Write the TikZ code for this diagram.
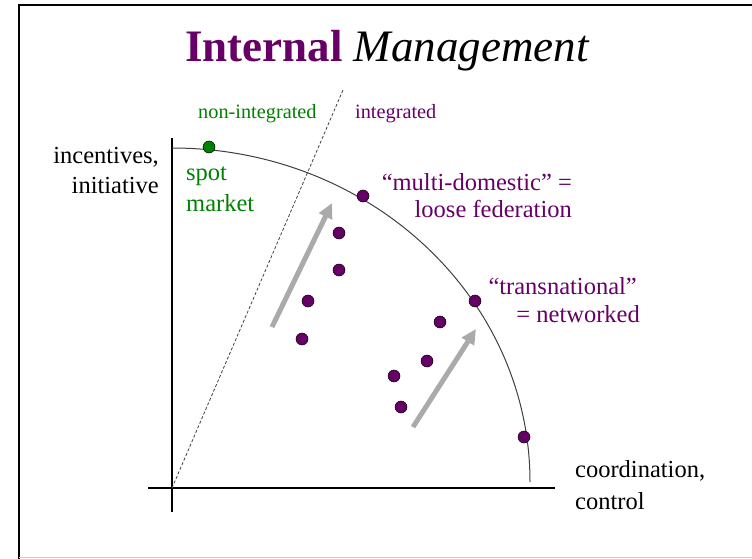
\documentclass[tikz,border=0pt]{standalone}
\usepackage{fontspec}
\setmainfont{Liberation Serif}
\usetikzlibrary{arrows.meta}
\definecolor{plum}{RGB}{102,0,102}
\definecolor{grn}{RGB}{0,128,0}
\definecolor{arrgray}{RGB}{170,170,170}
\tikzset{
  lbl/.style={inner sep=0pt, font=\fontsize{24.5}{28}\selectfont},
  small/.style={inner sep=0pt, font=\fontsize{20.3}{24}\selectfont},
  dot/.style={circle, minimum size=12pt, inner sep=0pt, fill=plum, draw=black, line width=0.5pt},
  gdot/.style={dot, fill=grn},
  axis/.style={line width=2.5pt, black},
  bigarrow/.style={line width=5pt, arrgray, -{Triangle[length=15pt,width=14pt]}},
}
\begin{document}
\begin{tikzpicture}[x=1pt,y=-1pt]
\useasboundingbox (0,0) rectangle (752,559);
% frame
\draw[line width=2.5pt, black] (19,559) -- (19,5) -- (752,5);
\draw[line width=1.5pt, black!20] (19,557.5) -- (752,557.5);
% title
\node[inner sep=0pt, anchor=base west, font=\fontsize{45}{50}\selectfont] (title) at (185,62)
  {\textcolor{plum}{\bfseries Internal} \itshape Management};
% axes
\coordinate (o) at (172,488);
\coordinate (ytop) at (172,138);
\coordinate (ybot) at (172,512);
\coordinate (xl) at (148,488);
\coordinate (xr) at (555,488);
\draw[axis] (ybot) -- (ytop);
\draw[axis] (xl) -- (xr);
% dashed divider
\coordinate (dtop) at (343,90);
\draw[line width=0.8pt, black!75, dash pattern=on 3pt off 2pt] (o) -- (dtop);
% frontier curve
\coordinate (cstart) at (172,148);
\draw[line width=1pt, black!75] (cstart) arc[start angle=-90, end angle=0, x radius=358, y radius=334];
% arrows
\coordinate (a1s) at (272,327);
\coordinate (a1e) at (332,203);
\coordinate (a2s) at (413,427);
\coordinate (a2e) at (476,329);
\draw[bigarrow] (a1s) -- (a1e);
\draw[bigarrow] (a2s) -- (a2e);
% dots
\node[gdot] (g1) at (209,147) {};
\node[dot] (d1) at (363,196) {};
\node[dot] (d2) at (339,233) {};
\node[dot] (d3) at (339,270) {};
\node[dot] (d4) at (308,301) {};
\node[dot] (d5) at (302,339) {};
\node[dot] (d6) at (475,301) {};
\node[dot] (d7) at (440,322) {};
\node[dot] (d8) at (427,361) {};
\node[dot] (d9) at (394,376) {};
\node[dot] (d10) at (401,407) {};
\node[dot] (d11) at (524,437) {};
% labels
\node[small, anchor=base west, text=grn] (nonint) at (198,119) {non-integrated};
\node[small, anchor=base west, text=plum] (integ) at (355,119) {integrated};
\node[lbl, anchor=base east] (inc1) at (159,164) {incentives,};
\node[lbl, anchor=base east] (inc2) at (159,193) {initiative};
\node[lbl, anchor=base west, text=grn] (spot1) at (186,180) {spot};
\node[lbl, anchor=base west, text=grn] (spot2) at (186,211) {market};
\node[lbl, anchor=base east, text=plum] (md1) at (572,190) {“multi-domestic” =};
\node[lbl, anchor=base east, text=plum] (md2) at (572,217) {loose federation};
\node[lbl, anchor=base east, text=plum] (tn1) at (637,294) {“transnational”};
\node[lbl, anchor=base east, text=plum] (tn2) at (640,322) {= networked};
\node[lbl, anchor=base west] (co1) at (575,477) {coordination,};
\node[lbl, anchor=base west] (co2) at (575,509) {control};
\end{tikzpicture}
\end{document}
